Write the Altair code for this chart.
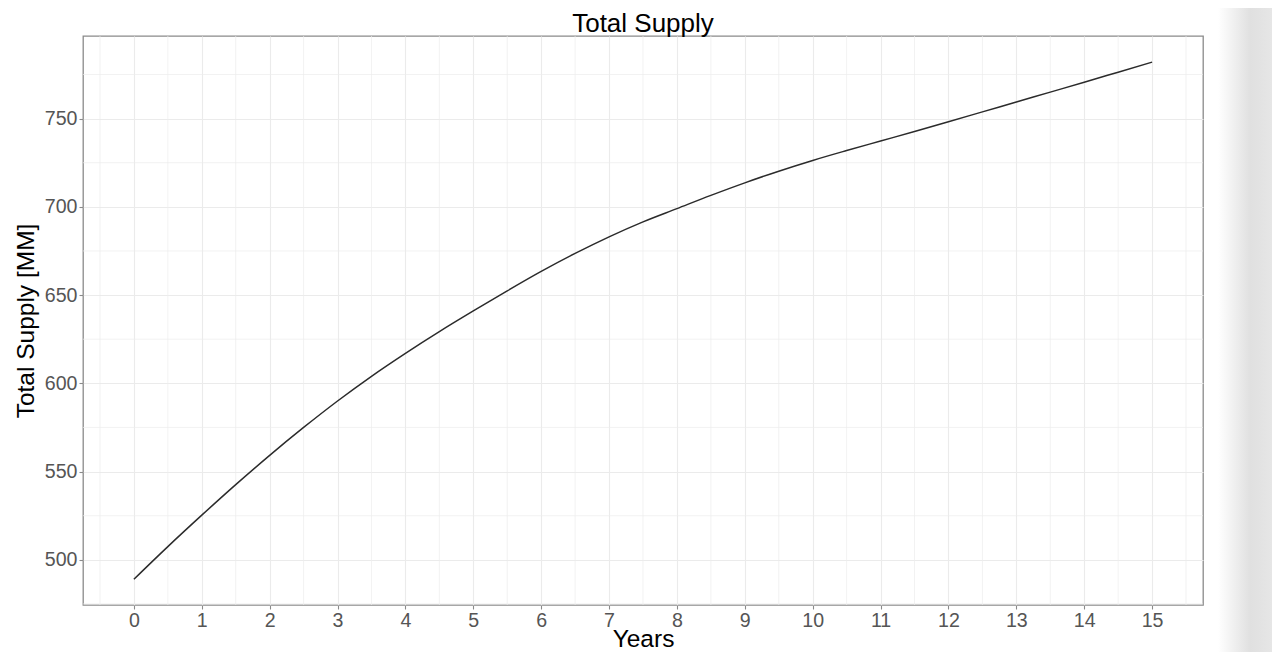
import altair as alt
import pandas as pd

# Data
title_text = ["Total Supply"]
years = [0, 0.5, 1, 1.5, 2, 2.5, 3, 3.5, 4, 4.5, 5, 5.5, 6, 6.5, 7, 7.5,
         8, 8.5, 9, 9.5, 10, 10.5, 11, 11.5, 12, 12.5, 13, 13.5, 14, 14.5, 15]
supply = [489.0, 507.5, 525.3, 542.6, 559.2, 575.0, 590.0, 604.0, 617.0, 629.3,
          641.0, 652.4, 663.4, 673.6, 683.0, 691.5, 699.0, 706.5, 713.6, 720.2,
          726.3, 731.9, 737.3, 742.7, 748.2, 753.8, 759.4, 765.0, 770.6, 776.3, 782.0]

x_ticks = list(range(0, 16))
y_ticks = [500, 550, 600, 650, 700, 750]
minor_x = [-0.5 + i for i in range(17)]
minor_y = [475, 525, 575, 625, 675, 725, 775]

x_domain = [-0.75, 15.75]
y_domain = [474.4, 796.8]

FONT = "Liberation Sans"
W, H = 1120, 569
xs = alt.Scale(domain=x_domain, nice=False, zero=False)
ys = alt.Scale(domain=y_domain, nice=False, zero=False)

x_axis = alt.Axis(values=x_ticks, title="Years", format="d",
                  titleY=41, titleBaseline="alphabetic")
y_axis = alt.Axis(values=y_ticks, title="Total Supply [MM]", format="d",
                  titleX=-50, titleBaseline="alphabetic")

df = pd.DataFrame({"Years": years, "Supply": supply})

minor_v = alt.Chart(pd.DataFrame({"mx": minor_x})).mark_rule(
    color="#EDEDED", strokeWidth=0.7
).encode(x=alt.X("mx:Q", scale=xs, axis=x_axis))

minor_h = alt.Chart(pd.DataFrame({"my": minor_y})).mark_rule(
    color="#EDEDED", strokeWidth=0.7
).encode(y=alt.Y("my:Q", scale=ys, axis=y_axis))

line = alt.Chart(df).mark_line(
    color="#2b2b2b", strokeWidth=1.5, interpolate="monotone"
).encode(
    x=alt.X("Years:Q", scale=xs, axis=x_axis),
    y=alt.Y("Supply:Q", scale=ys, axis=y_axis),
)

strip = alt.Chart(pd.DataFrame({"s": [0]})).mark_rect(
    color=alt.LinearGradient(
        gradient="linear",
        stops=[alt.GradientStop(color="#ffffff", offset=0),
               alt.GradientStop(color="#e0e0e0", offset=0.6),
               alt.GradientStop(color="#e6e6e6", offset=1)],
        x1=0, x2=1, y1=0, y2=0),
    clip=False,
).encode(x=alt.value(1135), x2=alt.value(1189), y=alt.value(-28), y2=alt.value(616))

title = alt.Chart(pd.DataFrame({"t": title_text})).mark_text(
    font=FONT, fontSize=26, color="#000000", align="center", baseline="alphabetic",
    clip=False,
).encode(text="t:N", x=alt.value(W / 2), y=alt.value(-4))

chart = alt.layer(minor_v, minor_h, line, strip, title).properties(
    width=W,
    height=H,
    autosize=alt.AutoSizeParams(type="none"),
    padding={"left": 75, "top": 28, "right": 69, "bottom": 47},
).configure_view(
    stroke="#8a8a8a", strokeWidth=1.3
).configure_axis(
    grid=True, gridColor="#EBEBEB", gridWidth=1.1,
    domain=False,
    ticks=True, tickColor="#8a8a8a", tickSize=4, tickWidth=1.1,
    labelFont=FONT, labelFontSize=19.6, labelColor="#555555", labelPadding=2,
    titleFont=FONT, titleFontSize=24.5, titleColor="#000000", titleFontWeight="normal",
)

chart.save("out.html", embed_options={"renderer": "svg", "actions": False})
